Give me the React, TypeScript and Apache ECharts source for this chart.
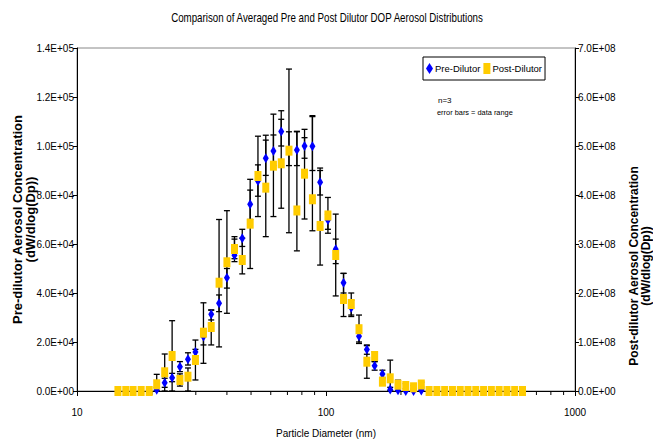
import React, { useEffect, useRef } from "react";
import * as echarts from "echarts";

// Particle diameters (nm), one per SMPS channel shown
const diameters = [
  14.6, 15.7, 16.8, 18.1, 19.5, 20.9, 22.5, 24.1, 25.9, 27.9, 29.9, 32.2, 34.6, 37.2,
  40.0, 42.9, 46.1, 49.6, 53.3, 57.3, 61.5, 66.1, 71.0, 76.4, 82.0, 88.2, 94.7, 101.8,
  109.4, 117.6, 126.3, 135.7, 145.9, 156.8, 168.5, 181.1, 194.6, 209.1, 224.7, 241.4,
  259.4, 278.8, 299.6, 322.0, 346.0, 371.8, 399.5, 429.4, 461.4, 495.8, 532.8, 572.5, 615.3,
];

// Pre-dilutor mean and data range (left axis)
const preDilutor = [
  0, 0, 0, 0, 0, 500, 3400, 5400, 9900, 13000, 15900, 22200, 31300, 35800,
  46200, 55400, 62300, 76200, 85700, 95000, 98000, 105900, 98500, 98400, 100000, 99900, 85200, 69800,
  57900, 44200, 34000, 22300, 16900, 10300, 6900, 600, 300, 0, 0, 200,
  0, 0, 0, 0, 0, 0, 0, 0, 0, 0, 0, 0, 0,
];
const preLow = [
  0, 0, 0, 0, 0, 0, 1500, 3800, 7900, 10600, 14300, 18800, 29000, 32400,
  42000, 52800, 59000, 70000, 79500, 88000, 92000, 100000, 92000, 92000, 95000, 90000, 80000, 66000,
  52000, 40000, 31000, 20000, 15000, 8500, 5500, 0, 0, 0, 0, 0,
  0, 0, 0, 0, 0, 0, 0, 0, 0, 0, 0, 0, 0,
];
const preHigh = [
  0, 0, 0, 0, 0, 1500, 5200, 7200, 12000, 15600, 17000, 24200, 33100, 39200,
  50000, 63000, 66000, 82000, 92300, 102400, 104500, 110900, 105800, 106000, 103400, 112000, 90000, 72000,
  62000, 48000, 37000, 24500, 18500, 12000, 8500, 1500, 1000, 0, 0, 800,
  0, 0, 0, 0, 0, 0, 0, 0, 0, 0, 0, 0, 0,
];

// Post-dilutor mean and data range (right axis)
const postDilutor = [
  0, 0, 0, 0, 0, 13.7e6, 38.2e6, 71.4e6, 22.5e6, 29.2e6, 63.3e6, 119e6, 130.6e6, 221e6,
  262.7e6, 289.8e6, 267.4e6, 341.5e6, 438.8e6, 415e6, 459.8e6, 464.7e6, 490.5e6, 368.4e6, 443.5e6, 391.3e6, 336.8e6, 358.2e6,
  277.6e6, 187.8e6, 177.6e6, 126.1e6, 59.8e6, 71.4e6, 19e6, 25.9e6, 12.9e6, 10.2e6, 7.6e6, 13.3e6,
  0, 0, 0, 0, 0, 0, 0, 0, 0, 0, 0, 0, 0,
];
const postLow = [
  0, 0, 0, 0, 0, 0, 0, 0, 10e6, 0, 22.5e6, 56.5e6, 94e6, 90e6,
  158.6e6, 270e6, 239e6, 250e6, 356e6, 315e6, 356e6, 373e6, 323e6, 286e6, 351e6, 327e6, 257e6, 322e6,
  194e6, 152e6, 152e6, 97e6, 26e6, 60e6, 12e6, 0, 0, 5e6, 4e6, 8e6,
  0, 0, 0, 0, 0, 0, 0, 0, 0, 0, 0, 0, 0,
];
const postHigh = [
  0, 0, 0, 0, 0, 34e6, 75.5e6, 143.5e6, 35e6, 47e6, 104e6, 180e6, 165e6, 350e6,
  368e6, 310e6, 312e6, 432e6, 520e6, 522e6, 565e6, 572e6, 657e6, 529e6, 534e6, 562e6, 455e6, 395e6,
  361e6, 240e6, 200e6, 155e6, 94e6, 80e6, 26e6, 63e6, 22e6, 15e6, 11e6, 18e6,
  0, 0, 0, 0, 0, 0, 0, 0, 0, 0, 0, 0, 0,
];

// Minor tick positions on the log x axis
const minorTicks = [20, 30, 40, 50, 60, 70, 80, 90, 200, 300, 400, 500, 600, 700, 800, 900];

const SANS = "'Liberation Sans', Arial, sans-serif";

function sci(v: number): string {
  if (v === 0) return "0.0E+00";
  const e = Math.floor(Math.log10(v) + 1e-9);
  const m = v / Math.pow(10, e);
  return m.toFixed(1) + "E+" + String(e).padStart(2, "0");
}

function errorData(xs: number[], lo: number[], hi: number[]) {
  const out: number[][] = [];
  xs.forEach((x, i) => {
    if (hi[i] > lo[i]) out.push([x, lo[i], hi[i]]);
  });
  return out;
}

const errRender = (params: any, api: any) => {
  const x = api.value(0);
  const pLo = api.coord([x, api.value(1)]);
  const pHi = api.coord([x, api.value(2)]);
  const w = 3;
  const style = { stroke: "#000", lineWidth: 1.3 };
  return {
    type: "group",
    children: [
      { type: "line", shape: { x1: pLo[0], y1: pLo[1], x2: pHi[0], y2: pHi[1] }, style },
      { type: "line", shape: { x1: pLo[0] - w, y1: pLo[1], x2: pLo[0] + w, y2: pLo[1] }, style },
      { type: "line", shape: { x1: pHi[0] - w, y1: pHi[1], x2: pHi[0] + w, y2: pHi[1] }, style },
    ],
  };
};

export default function App() {
  const ref = useRef<HTMLDivElement>(null);
  useEffect(() => {
    if (!ref.current) return;
    const chart = echarts.init(ref.current, undefined, { renderer: "svg" });
    chart.setOption({
      animation: false,
      backgroundColor: "#fff",
      legend: {
        left: 423,
        top: 57,
        padding: [6, 3, 6, 3],
        itemGap: 3,
        itemWidth: 7,
        itemHeight: 11,
        borderColor: "#000",
        borderWidth: 1,
        backgroundColor: "#fff",
        textStyle: { fontFamily: SANS, fontSize: 9.5, color: "#000", padding: [0, 0, 0, -3] },
        data: [
          { name: "Pre-Dilutor", icon: "diamond" },
          { name: "Post-Dilutor", icon: "rect" },
        ],
      },
      graphic: [
        {
          type: "text",
          x: 327,
          y: 18,
          scaleX: 0.78,
          style: {
            text: "Comparison of Averaged Pre and Post Dilutor DOP Aerosol Distributions",
            font: "12.5px " + SANS,
            fill: "#000",
            align: "center",
            verticalAlign: "middle",
          },
        },
        {
          type: "text",
          x: 640,
          y: 266,
          rotation: Math.PI / 2,
          style: {
            text: "Post-dilutor Aerosol Concentration\n(dW/dlog(Dp))",
            font: "bold 12px " + SANS,
            lineHeight: 12,
            fill: "#000",
            align: "center",
            verticalAlign: "middle",
          },
        },
        { type: "text", left: 438, top: 96, style: { text: "n=3", font: "8px " + SANS, fill: "#000" } },
        {
          type: "text",
          left: 437,
          top: 109,
          style: { text: "error bars = data range", font: "7.4px " + SANS, fill: "#000" },
        },
      ],
      grid: {
        left: 77,
        right: 78,
        top: 48,
        bottom: 54,
        outerBoundsMode: "none",
        containLabel: false,
        show: true,
        borderColor: "#888",
        borderWidth: 1,
      },
      xAxis: {
        type: "log",
        logBase: 10,
        min: 10,
        max: 1000,
        name: "Particle Diameter (nm)",
        nameLocation: "middle",
        nameGap: 37,
        nameMoveOverlap: false,
        nameTextStyle: { fontFamily: SANS, fontSize: 10, color: "#000" },
        axisLine: { lineStyle: { color: "#000", width: 1 } },
        axisTick: { length: 5, lineStyle: { color: "#000" } },
        axisLabel: {
          margin: 16,
          fontFamily: SANS,
          fontSize: 10,
          color: "#000",
          formatter: (v: number) => String(Math.round(v)),
        },
        splitLine: { show: false },
        minorTick: { show: false },
      },
      yAxis: [
        {
          type: "value",
          min: 0,
          max: 140000,
          interval: 20000,
          name: "Pre-dilutor Aerosol Concentration\n(dW/dlog(Dp))",
          nameLocation: "middle",
          nameRotate: 90,
          nameGap: 40,
          nameMoveOverlap: false,
          nameTextStyle: { fontFamily: SANS, fontSize: 13, fontWeight: "bold", color: "#000", lineHeight: 13 },
          axisLine: { show: true, lineStyle: { color: "#000" } },
          axisTick: { show: true, length: 4, lineStyle: { color: "#000" } },
          axisLabel: { margin: 3, fontFamily: SANS, fontSize: 10, color: "#000", formatter: sci },
          splitLine: { show: false },
        },
        {
          type: "value",
          position: "right",
          min: 0,
          max: 7e8,
          interval: 1e8,
          axisLine: { show: true, lineStyle: { color: "#000" } },
          axisTick: { show: true, length: 4, lineStyle: { color: "#000" } },
          axisLabel: { margin: 3, fontFamily: SANS, fontSize: 10, color: "#000", formatter: sci },
          splitLine: { show: false },
        },
      ],
      series: [
        {
          type: "custom",
          name: "minorTicks",
          xAxisIndex: 0,
          yAxisIndex: 0,
          silent: true,
          data: minorTicks.map((v) => [v, 0]),
          encode: { x: 0, y: 1 },
          renderItem: (params: any, api: any) => {
            const p = api.coord([api.value(0), 0]);
            return {
              type: "line",
              shape: { x1: p[0], y1: p[1], x2: p[0], y2: p[1] + 4 },
              style: { stroke: "#000", lineWidth: 1 },
            };
          },
          z: 1,
        },
        {
          type: "custom",
          name: "preErr",
          yAxisIndex: 0,
          data: errorData(diameters, preLow, preHigh),
          encode: { x: 0, y: [1, 2] },
          renderItem: errRender,
          z: 2,
        },
        {
          type: "custom",
          name: "postErr",
          yAxisIndex: 1,
          data: errorData(diameters, postLow, postHigh),
          encode: { x: 0, y: [1, 2] },
          renderItem: errRender,
          z: 2,
        },
        {
          type: "scatter",
          name: "Pre-Dilutor",
          yAxisIndex: 0,
          symbol: "diamond",
          symbolSize: [6, 10],
          itemStyle: { color: "#0000FF", opacity: 1 },
          data: diameters.map((d, i) => [d, preDilutor[i]]),
          z: 3,
        },
        {
          type: "scatter",
          name: "Post-Dilutor",
          yAxisIndex: 1,
          symbol: "rect",
          symbolSize: [7, 10],
          itemStyle: { color: "#FFCC00", opacity: 1 },
          data: diameters.map((d, i) => [d, postDilutor[i]]),
          z: 4,
        },
      ],
    });
    return () => chart.dispose();
  }, []);
  return (
    <div
      ref={ref}
      style={{ position: "fixed", left: 0, top: 0, width: 653, height: 445, background: "#fff" }}
    />
  );
}
